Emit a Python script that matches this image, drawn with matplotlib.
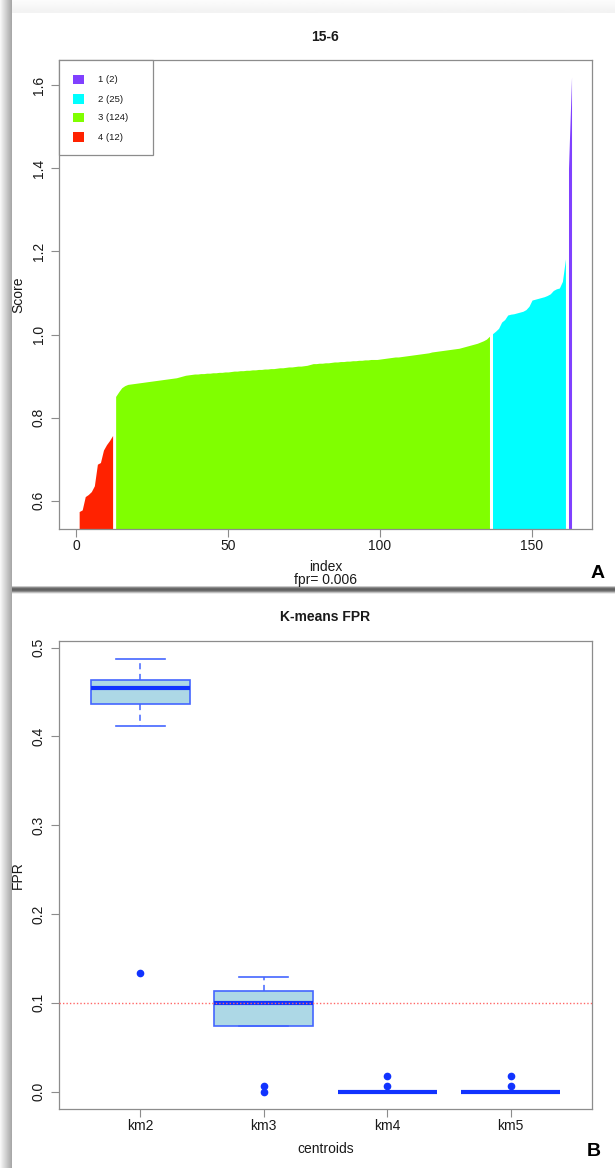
import matplotlib
matplotlib.use("Agg")
import matplotlib.pyplot as plt
import numpy as np
from matplotlib.patches import Rectangle

plt.rcParams['font.family'] = ['Liberation Sans', 'DejaVu Sans']

W, H = 615, 1168

# --- panel A: sorted scores per cluster (drawn in order 4, 3, 2, 1) ---
cluster_names = ["1", "2", "3", "4"]
cluster_colors = ["#8040ff", "#00ffff", "#80ff00", "#ff2200"]

score_c4 = [0.574, 0.578, 0.610, 0.615, 0.622, 0.636, 0.688, 0.692, 0.722,
            0.735, 0.745, 0.757]
score_c3 = [0.851, 0.862, 0.872, 0.877, 0.880, 0.881, 0.882, 0.883, 0.884,
            0.885, 0.886, 0.887, 0.888, 0.889, 0.890, 0.891, 0.892, 0.893,
            0.894, 0.895, 0.896, 0.898, 0.900, 0.902, 0.903, 0.904, 0.905,
            0.905, 0.906, 0.906, 0.907, 0.907, 0.908, 0.908, 0.909, 0.909,
            0.910, 0.910, 0.911, 0.912, 0.912, 0.913, 0.913, 0.914, 0.914,
            0.915, 0.915, 0.916, 0.916, 0.917, 0.917, 0.918, 0.918, 0.919,
            0.920, 0.920, 0.921, 0.922, 0.922, 0.923, 0.924, 0.924, 0.925,
            0.926, 0.928, 0.930, 0.930, 0.931, 0.931, 0.932, 0.932, 0.933,
            0.934, 0.934, 0.935, 0.935, 0.936, 0.936, 0.937, 0.937, 0.938,
            0.938, 0.939, 0.939, 0.940, 0.940, 0.940, 0.941, 0.942, 0.943,
            0.944, 0.945, 0.946, 0.946, 0.947, 0.948, 0.949, 0.950, 0.951,
            0.952, 0.953, 0.954, 0.955, 0.956, 0.958, 0.959, 0.960, 0.961,
            0.962, 0.963, 0.964, 0.965, 0.966, 0.967, 0.969, 0.971, 0.973,
            0.975, 0.977, 0.979, 0.982, 0.985, 0.989, 0.996]
score_c2 = [1.002, 1.008, 1.015, 1.030, 1.036, 1.047, 1.049, 1.050, 1.052,
            1.054, 1.056, 1.060, 1.068, 1.083, 1.085, 1.087, 1.089, 1.091,
            1.094, 1.098, 1.106, 1.110, 1.112, 1.128, 1.182]
score_c1 = [1.40, 1.62]
fpr_value = 0.006

# --- panel B: K-means FPR box stats ---
centroids = ["km2", "km3", "km4", "km5"]
fpr_whislo = [0.412, 0.0738, 0.0, 0.0]
fpr_q1 = [0.436, 0.0738, 0.0, 0.0]
fpr_med = [0.455, 0.0997, 0.0, 0.0]
fpr_q3 = [0.4636, 0.1131, 0.0, 0.0]
fpr_whishi = [0.4876, 0.1297, 0.0, 0.0]
fpr_outliers = [[0.1334], [0.006, 0.0], [0.018, 0.006], [0.018, 0.006]]
fpr_threshold = 0.1

TXT = "#1a1a1a"
AXC = "#8c8c8c"


def fig_xy(x, y):
    return x / W, 1 - y / H


def add_panel_axes(left, top, right, bottom):
    ax = fig.add_axes([left / W, 1 - bottom / H, (right - left) / W, (bottom - top) / H])
    for sp in ax.spines.values():
        sp.set_color(AXC)
        sp.set_linewidth(0.9)
    ax.tick_params(direction='out', length=5.5, width=0.8, color=AXC,
                   labelsize=10, labelcolor=TXT)
    ax.tick_params(axis='x', pad=2)
    ax.tick_params(axis='y', pad=4, labelrotation=90)
    return ax


def rotate_ylabels(ax):
    for lbl in ax.get_yticklabels():
        lbl.set_va('center')


fig = plt.figure(figsize=(W / 100, H / 100), dpi=100, facecolor='white')

# background: drop shadows around the two panels
bg = fig.add_axes([0, 0, 1, 1], zorder=-10)
bg.set_xlim(0, W)
bg.set_ylim(H, 0)
bg.axis('off')
left_shade = np.linspace(0.97, 0.66, 12).reshape(1, -1)
bg.imshow(left_shade, cmap='gray', vmin=0, vmax=1, aspect='auto',
          extent=(0, 12, H, 0), interpolation='bilinear')
top_shade = np.linspace(0.99, 0.95, 13).reshape(-1, 1)
bg.imshow(top_shade, cmap='gray', vmin=0, vmax=1, aspect='auto',
          extent=(12, W, 13, 0), interpolation='bilinear')
bot_shade = np.array([0.8, 0.55, 0.42, 0.38, 0.42, 0.55, 0.75, 0.92]).reshape(-1, 1)
bg.imshow(bot_shade, cmap='gray', vmin=0, vmax=1, aspect='auto',
          extent=(12, W, 594, 586), interpolation='bilinear')

# ---------------- panel A ----------------
axA = add_panel_axes(58.8, 60.3, 592.2, 529)
groups = [score_c4, score_c3, score_c2, score_c1]
group_colors = [cluster_colors[3], cluster_colors[2], cluster_colors[1], cluster_colors[0]]
start = 1
for vals, col in zip(groups, group_colors):
    idx = np.arange(start, start + len(vals))
    axA.fill_between(idx, 0, vals, color=col, linewidth=0)
    start += len(vals)
axA.set_xlim(-5.7, 169.8)
axA.set_ylim(0.532, 1.660)
axA.set_xticks([0, 50, 100, 150])
axA.set_yticks([0.6, 0.8, 1.0, 1.2, 1.4, 1.6])
axA.set_yticklabels(["0.6", "0.8", "1.0", "1.2", "1.4", "1.6"])
rotate_ylabels(axA)

# legend box drawn R-style in the top-left corner
lx0, ly0, lx1, ly1 = fig_xy(58.8, 60.3) + fig_xy(153.3, 155.3)
fig.patches.append(Rectangle((lx0, ly1), lx1 - lx0, ly0 - ly1, transform=fig.transFigure,
                             facecolor='white', edgecolor=AXC, linewidth=0.9, zorder=5))
cluster_sizes = [len(score_c1), len(score_c2), len(score_c3), len(score_c4)]
row_y = [79.7, 99.0, 117.7, 137.0]
for name, n, col, ry in zip(cluster_names, cluster_sizes, cluster_colors, row_y):
    sx, sy = fig_xy(72.9, ry + 4.6)
    fig.patches.append(Rectangle((sx, sy), 11 / W, 9.3 / H, transform=fig.transFigure,
                                 facecolor=col, edgecolor='none', zorder=6))
    tx, ty = fig_xy(98, ry)
    fig.text(tx, ty, f"{name} ({n})", fontsize=6.8, color=TXT, va='center', ha='left', zorder=7)

fig.text(*fig_xy(325.5, 37.3), "15-6", fontsize=10, fontweight='bold', ha='center', va='center', color=TXT)
fig.text(*fig_xy(18.2, 294.7), "Score", fontsize=10, rotation=90, ha='center', va='center', color=TXT)
fig.text(*fig_xy(325.5, 566.8), "index", fontsize=10, ha='center', va='center', color=TXT)
fig.text(*fig_xy(325.5, 580.0), f"fpr= {fpr_value}", fontsize=10, ha='center', va='center', color=TXT)
fig.text(*fig_xy(597.5, 573), "A", fontsize=14, fontweight='bold', ha='center', va='center', color='black')

# ---------------- panel B ----------------
axB = add_panel_axes(58.8, 641, 592.2, 1109)
stats = []
for i, name in enumerate(centroids):
    stats.append(dict(label=name, whislo=fpr_whislo[i], q1=fpr_q1[i], med=fpr_med[i],
                      q3=fpr_q3[i], whishi=fpr_whishi[i], fliers=fpr_outliers[i]))
axB.bxp(stats, positions=[1, 2, 3, 4], widths=0.8, patch_artist=True, capwidths=0.4,
        boxprops=dict(facecolor='#add8e6', edgecolor='#4466ff', linewidth=1.2),
        medianprops=dict(color='#1133ff', linewidth=3, solid_capstyle='butt'),
        whiskerprops=dict(color='#4466ff', linewidth=1.1, linestyle=(0, (4, 3))),
        capprops=dict(color='#4466ff', linewidth=1.2),
        flierprops=dict(marker='o', markerfacecolor='#1133ff', markeredgecolor='#1133ff',
                        markersize=4.5))
axB.axhline(fpr_threshold, color='#ff6666', linestyle=(0, (1, 1.5)), linewidth=1.0, zorder=5)
axB.set_xlim(0.34, 4.66)
axB.set_ylim(-0.0195, 0.5075)
axB.set_xticks([1, 2, 3, 4])
axB.set_xticklabels(centroids)
axB.set_yticks([0.0, 0.1, 0.2, 0.3, 0.4, 0.5])
axB.set_yticklabels(["0.0", "0.1", "0.2", "0.3", "0.4", "0.5"])
rotate_ylabels(axB)

fig.text(*fig_xy(325.5, 617.3), "K-means FPR", fontsize=10, fontweight='bold', ha='center', va='center', color=TXT)
fig.text(*fig_xy(17.5, 875), "FPR", fontsize=10, rotation=90, ha='center', va='center', color=TXT)
fig.text(*fig_xy(325.5, 1149.3), "centroids", fontsize=10, ha='center', va='center', color=TXT)
fig.text(*fig_xy(594, 1151.5), "B", fontsize=14, fontweight='bold', ha='center', va='center', color='black')

fig.savefig("out.png", dpi=100)
